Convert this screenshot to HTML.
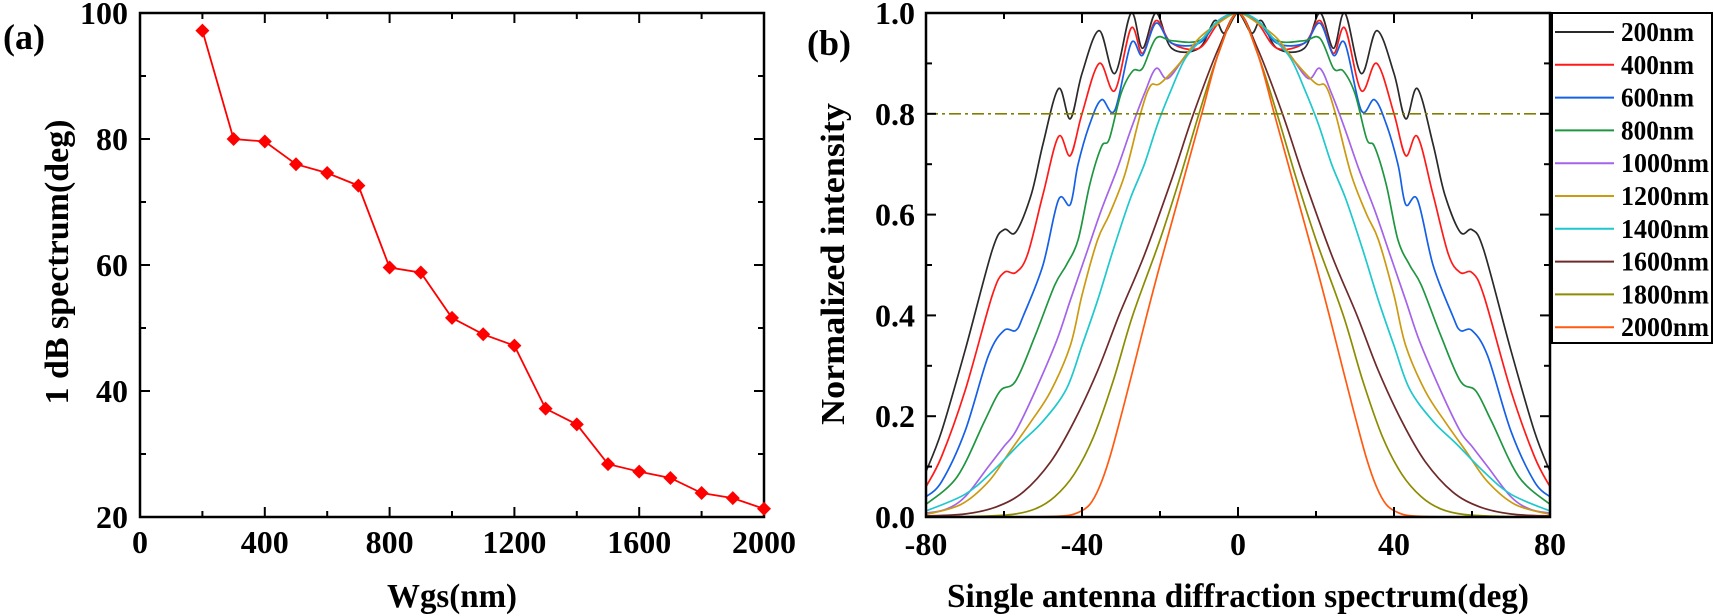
<!DOCTYPE html>
<html><head><meta charset="utf-8"><style>
html,body{margin:0;padding:0;background:#fff;}
svg{display:block;font-family:"Liberation Serif",serif;font-weight:bold;}
</style></head><body>
<svg id="s" width="1714" height="616" viewBox="0 0 1714 616" xmlns="http://www.w3.org/2000/svg"></svg>
<script>
const S=document.getElementById('s');let h='';
function ln(x1,y1,x2,y2,c,w,extra){h+=`<line x1="${x1}" y1="${y1}" x2="${x2}" y2="${y2}" stroke="${c}" stroke-width="${w}" ${extra||''}/>`;}
function tx(x,y,t,sz,anc,extra){h+=`<text x="${x}" y="${y}" font-size="${sz}" text-anchor="${anc||'middle'}" ${extra||''}>${t}</text>`;}
// ---------- Panel (a)
const aL=140,aR=764,aT=13,aB=517;
const ax=v=>aL+(v)/2000*(aR-aL), ay=v=>aB-(v-20)/80*(aB-aT);
for(let v=0;v<=2000;v+=200){const x=ax(v),m=v%400==0?10:6;ln(x,aB,x,aB-m,'#000',2);ln(x,aT,x,aT+m,'#000',2);if(v%400==0)tx(x,553,v,32);}
for(let v=20;v<=100;v+=10){const y=ay(v),m=v%20==0?10:6;ln(aL,y,aL+m,y,'#000',2);ln(aR,y,aR-m,y,'#000',2);if(v%20==0)tx(128,y+11,v,32,'end');}
h+=`<rect x="${aL}" y="${aT}" width="${aR-aL}" height="${aB-aT}" fill="none" stroke="#000" stroke-width="2.5"/>`;
const da=[[200,97.2],[300,80],[400,79.6],[500,76],[600,74.6],[700,72.6],[800,59.6],[900,58.8],[1000,51.6],[1100,49],[1200,47.2],[1300,37.2],[1400,34.7],[1500,28.4],[1600,27.2],[1700,26.2],[1800,23.8],[1900,23],[2000,21.3]];
h+=`<polyline fill="none" stroke="#ff0000" stroke-width="1.8" points="${da.map(p=>ax(p[0])+','+ay(p[1])).join(' ')}"/>`;
da.forEach(p=>{const x=ax(p[0]),y=ay(p[1]);h+=`<polygon fill="#ff0000" points="${x},${y-7} ${x+7},${y} ${x},${y+7} ${x-7},${y}"/>`;});
tx(452,607,'Wgs(nm)',34,'middle','textLength="130" lengthAdjust="spacingAndGlyphs"');
tx(0,0,'1 dB spectrum(deg)',34,'middle',`transform="translate(68,262) rotate(-90)" textLength="285" lengthAdjust="spacingAndGlyphs"`);
tx(3,49,'(a)',36,'start');
// ---------- Panel (b)
const bL=926,bR=1550,bT=13,bB=517;
const bx=v=>(bL+bR)/2+v/160*(bR-bL), by=v=>bB-v*(bB-bT);
const C={200:'#2a2a2a',400:'#ff1a1a',600:'#1560e6',800:'#1e9640',1000:'#a463e8',1200:'#cc9a10',1400:'#1ec8cc',1600:'#6e2a2a',1800:'#8c8c00',2000:'#ff5a10'};
const D={
200:[[0,1],[3.5,0.96],[6,0.985],[10,0.93],[17,0.93],[21,1.0],[24.5,0.93],[27.4,1.0],[31.6,0.88],[35.6,0.965],[40,0.88],[43,0.79],[46,0.85],[50,0.74],[53,0.64],[57,0.565],[60,0.57],[63,0.53],[70,0.33],[76,0.17],[80,0.09]],
400:[[0,1],[5,0.98],[10,0.93],[17,0.94],[21,0.985],[24.5,0.92],[27.4,0.97],[31.6,0.846],[35.6,0.9],[40,0.8],[43,0.717],[46,0.755],[50,0.64],[54,0.52],[57,0.485],[60,0.485],[63,0.44],[70,0.25],[76,0.12],[80,0.06]],
600:[[0,1],[5,0.985],[10,0.94],[17,0.94],[21,0.98],[24.5,0.916],[27.4,0.94],[31.6,0.807],[35,0.828],[38,0.78],[41,0.7],[43,0.62],[46,0.63],[50,0.5],[55,0.4],[57,0.37],[60,0.37],[64,0.32],[70,0.17],[76,0.07],[80,0.04]],
800:[[0,1],[5,0.985],[10,0.945],[17,0.945],[21,0.95],[24.5,0.89],[27,0.885],[30,0.84],[33,0.75],[35,0.735],[38,0.66],[41,0.55],[44,0.5],[47,0.46],[52,0.36],[57,0.27],[61,0.25],[65,0.19],[72,0.08],[80,0.025]],
1000:[[0,1],[5,0.985],[9,0.95],[13,0.92],[18,0.87],[21,0.89],[24,0.84],[27.4,0.77],[31,0.69],[35,0.61],[39,0.52],[43,0.43],[46.5,0.35],[52,0.25],[57,0.17],[60,0.14],[64,0.1],[70,0.04],[75,0.015],[80,0.008]],
1200:[[0,1],[5,0.98],[10,0.95],[15,0.9],[20,0.86],[22.5,0.855],[25,0.8],[29,0.68],[33,0.6],[36,0.55],[40,0.44],[43,0.34],[48,0.25],[53,0.19],[58.5,0.13],[64,0.07],[71,0.025],[80,0.005]],
1400:[[0,1],[5,0.985],[9,0.95],[13.5,0.91],[17,0.85],[20.6,0.78],[24,0.7],[27.7,0.63],[32,0.53],[36,0.43],[40,0.34],[44,0.254],[50,0.19],[56,0.145],[63,0.09],[70,0.045],[80,0.012]],
1600:[[0,1],[5,0.93],[11.4,0.8],[17,0.67],[24,0.52],[30.5,0.4],[36,0.29],[42,0.19],[48,0.11],[55,0.05],[62,0.02],[70,0.006],[80,0.002]],
1800:[[0,1],[5,0.92],[10,0.8],[15,0.67],[20,0.55],[27,0.4],[32,0.27],[37,0.16],[42,0.085],[47,0.04],[52,0.016],[58,0.005],[68,0.001],[80,0]],
2000:[[0,1],[5,0.92],[9.3,0.8],[15,0.64],[20,0.5],[23.4,0.4],[27,0.29],[30,0.2],[33,0.115],[35.5,0.06],[38,0.025],[41,0.009],[45,0.002],[55,0],[80,0]]};
function path(pts){let d='M'+pts[0][0].toFixed(1)+','+pts[0][1].toFixed(1);
 for(let i=0;i<pts.length-1;i++){const p0=pts[Math.max(0,i-1)],p1=pts[i],p2=pts[i+1],p3=pts[Math.min(pts.length-1,i+2)];
 const c1=[p1[0]+(p2[0]-p0[0])/6,p1[1]+(p2[1]-p0[1])/6],c2=[p2[0]-(p3[0]-p1[0])/6,p2[1]-(p3[1]-p1[1])/6];
 d+=`C${c1[0].toFixed(1)},${c1[1].toFixed(1)} ${c2[0].toFixed(1)},${c2[1].toFixed(1)} ${p2[0].toFixed(1)},${p2[1].toFixed(1)}`;}return d;}
h+=`<clipPath id="cb"><rect x="${bL}" y="${bT-2}" width="${bR-bL}" height="${bB-bT+1}"/></clipPath><g clip-path="url(#cb)">`;
Object.keys(D).forEach(k=>{const half=D[k];const full=[];for(let i=half.length-1;i>0;i--)full.push([-half[i][0],half[i][1]]);half.forEach(p=>full.push(p));
 h+=`<path d="${path(full.map(p=>[bx(p[0]),by(Math.min(p[1],1))]))}" fill="none" stroke="${C[k]}" stroke-width="1.7"/>`;});
h+='</g>';
ln(bL,by(0.8),bR+160,by(0.8),'#808000',1.6,'stroke-dasharray="12,4,3,4"');
for(let v=-80;v<=80;v+=20){const x=bx(v),m=v%40==0?10:6;ln(x,bB,x,bB-m,'#000',2);ln(x,bT,x,bT+m,'#000',2);if(v%40==0)tx(x,555,v,32);}
for(let i=0;i<=10;i++){const v=i/10,y=by(v),m=i%2==0?10:6;ln(bL,y,bL+m,y,'#000',2);ln(bR,y,bR-m,y,'#000',2);if(i%2==0)tx(915,y+11,v.toFixed(1),32,'end');}
h+=`<rect x="${bL}" y="${bT}" width="${bR-bL}" height="${bB-bT}" fill="none" stroke="#000" stroke-width="2.5"/>`;
tx(1238,607,'Single antenna diffraction spectrum(deg)',34,'middle','textLength="582" lengthAdjust="spacingAndGlyphs"');
tx(0,0,'Normalized intensity',34,'middle',`transform="translate(844,264) rotate(-90)" textLength="322" lengthAdjust="spacingAndGlyphs"`);
tx(807,55,'(b)',36,'start');
// legend
h+=`<rect x="1552" y="13" width="160" height="330" fill="#fff" stroke="#000" stroke-width="2"/>`;
Object.keys(C).forEach((k,i)=>{const y=32+32.8*i;ln(1555,y,1614,y,C[k],2);tx(1621,y+9,k+'nm',27,'start',`textLength="${k.length>3?88:73}" lengthAdjust="spacingAndGlyphs"`);});
S.innerHTML=h;
</script>
</body></html>
